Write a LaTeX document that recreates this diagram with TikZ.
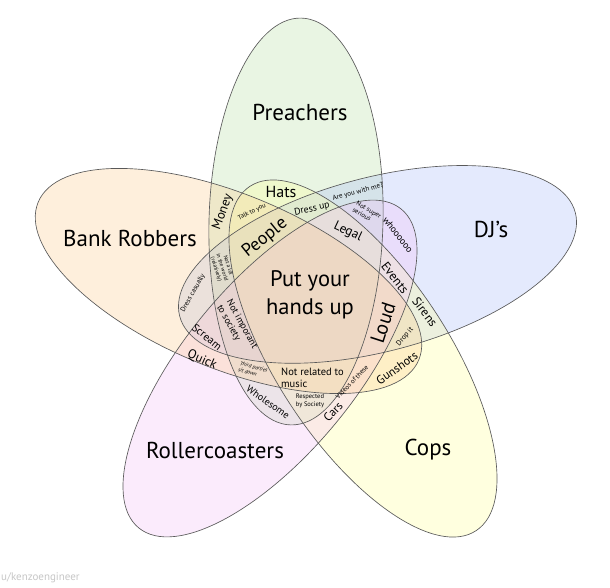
\documentclass[tikz,border=0pt]{standalone}
\usepackage{fontspec}
\setmainfont{PT Sans}
\definecolor{prcol}{RGB}{185,222,165}
\definecolor{djcol}{RGB}{168,188,250}
\definecolor{cpcol}{RGB}{255,255,152}
\definecolor{rccol}{RGB}{245,192,248}
\definecolor{brcol}{RGB}{252,205,142}
\begin{document}
\begin{tikzpicture}[x=1pt, y=-1pt,
	menge/.style={draw=black!65, line width=0.65pt},
	txt/.style 2 args={inner sep=0pt, align=center, font=\fontsize{#1}{#2}\selectfont}]
	\useasboundingbox (0,0) rectangle (610,588);
	\fill[white] (0,0) rectangle (610,588);
	% Mengen: Flaechen
	\foreach \cx/\cy/\w/\a/\b/\f in {296/221.5/88.5/203.5/87/prcol,
		377.5/264.4/14.7/204.5/87/djcol, 363/358.5/-56.7/206/86/cpcol,
		270/368.5/50.5/206.5/85.5/rccol, 228.5/281/-22.5/206/87/brcol}
		\fill[\f, fill opacity=0.3, rotate around={\w:(\cx,\cy)}] (\cx,\cy) ellipse [x radius=\a pt, y radius=\b pt];
	% Mengen: Raender
	\foreach \cx/\cy/\w/\a/\b in {296/221.5/88.5/203.5/87,
		377.5/264.4/14.7/204.5/87, 363/358.5/-56.7/206/86,
		270/368.5/50.5/206.5/85.5, 228.5/281/-22.5/206/87}
		\draw[menge, rotate around={\w:(\cx,\cy)}] (\cx,\cy) ellipse [x radius=\a pt, y radius=\b pt];

	% Namen der Mengen
	\node[txt={23}{27}] (preachers) at (300, 112) {Preachers};
	\node[txt={23}{27}] (robbers) at (130, 238) {Bank Robbers};
	\node[txt={23}{27}] (djs) at (491, 229) {DJ’s};
	\node[txt={23}{27}] (coasters) at (215, 450) {Rollercoasters};
	\node[txt={23}{27}] (cops) at (428, 450) {Cops};
	\node[txt={22.5}{28}] (center) at (310, 295) {Put your\\hands up};

	% Schnittmengen
	\node[txt={16}{18}] (hats) at (281, 192) {Hats};
	\node[txt={13}{15}, rotate=70] (money) at (223, 212) {Money};
	\node[txt={18}{20}, rotate=39] (people) at (265, 238) {People};
	\node[txt={6.5}{7.5}, rotate=27] (talk) at (252, 212) {Talk to you};
	\node[txt={9.7}{11}, rotate=12] (dressup) at (312, 209) {Dress up};
	\node[txt={7}{8}, rotate=15] (withme) at (358, 192) {Are you with me?};
	\node[txt={6.6}{7.5}, align=left, rotate=-30] (serious) at (367, 213) {Not super\\serious};
	\node[txt={9.5}{11}, rotate=-52] (whoo) at (398, 235) {whoooooo};
	\node[txt={13}{15}, rotate=-25] (legal) at (348, 232) {Legal};
	\node[txt={12.7}{14}, rotate=-52] (events) at (395, 278) {Events};
	\node[txt={12.5}{14}, rotate=-53] (sirens) at (425, 312) {Sirens};
	\node[txt={20}{22}, rotate=72] (loud) at (383, 323) {Loud};
	\node[txt={7.4}{8.5}, rotate=50] (dropit) at (405, 337) {Drop it};
	\node[txt={12}{14}, rotate=35] (gunshots) at (397, 368) {Gunshots};
	\node[txt={6.7}{7.5}, rotate=46.5] (videos) at (352, 382) {Videos of these};
	\node[txt={12}{14}, rotate=47] (cars) at (333, 412) {Cars};
	\node[txt={6.5}{7.5}, align=left] (respected) at (310, 401) {Respected\\by Society};
	\node[txt={10.5}{12}, align=left, anchor=west] (music) at (281, 377.5) {Not related to\\music};
	\node[txt={10}{12}, rotate=-35] (wholesome) at (268, 402) {Wholesome};
	\node[txt={5.5}{6.5}, align=left, font=\fontsize{5.5}{6.5}\selectfont\itshape, rotate=-15] (third) at (253, 370) {Third parties\\sit down};
	\node[txt={12.7}{14}, rotate=-24] (quick) at (202, 360) {Quick};
	\node[txt={11}{13}, rotate=-39] (scream) at (207, 337) {Scream};
	\node[txt={9.5}{11}, align=left, rotate=-61] (important) at (237, 327) {Not imporant\\to society};
	\node[txt={7}{8}, rotate=60.5] (casual) at (193, 293) {Dress casually};
	\node[txt={5.5}{6.3}, rotate=-72] (notalot) at (222, 267.5) {Not a lot\\in the world\\(relatively)};

	% Signatur
	\node[txt={11}{13}, anchor=west, text=black!22] (sign) at (1, 578) {u/kenzoengineer};
\end{tikzpicture}
\end{document}
